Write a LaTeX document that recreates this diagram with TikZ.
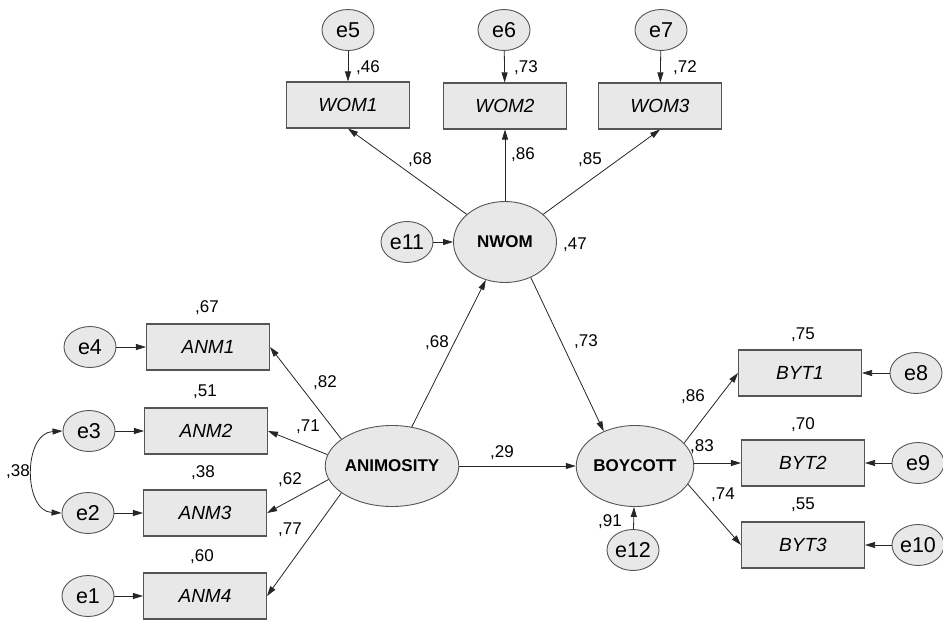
\documentclass[tikz,border=0pt]{standalone}
\usepackage{fontspec}
\setmainfont{Liberation Sans}
\usetikzlibrary{shapes.geometric,arrows.meta}
\definecolor{shapefill}{HTML}{E8E8E8}
\definecolor{edgegray}{HTML}{555555}
\definecolor{linecol}{HTML}{262626}
\tikzset{
  errnode/.style={ellipse,draw=edgegray,line width=0.9pt,fill=shapefill,minimum width=52pt,minimum height=41pt,inner sep=0pt,font=\fontsize{21.5}{21.5}\selectfont},
  latent/.style={ellipse,draw=edgegray,line width=0.9pt,fill=shapefill,minimum width=103pt,minimum height=81pt,inner sep=0pt,font=\fontsize{17}{17}\selectfont\bfseries},
  obs/.style={rectangle,draw=edgegray,line width=1.1pt,fill=shapefill,minimum width=123pt,minimum height=46pt,inner sep=0pt,font=\fontsize{19}{19}\selectfont\itshape},
  lbl/.style={inner sep=0pt,font=\fontsize{17}{17}\selectfont},
  arr/.style={draw=linecol,line width=0.8pt,-{Triangle[length=10pt,width=6pt]}},
  dblarr/.style={draw=linecol,line width=0.8pt,{Triangle[length=10pt,width=6pt]}-{Triangle[length=10pt,width=6pt]}}
}
\begin{document}
\begin{tikzpicture}[x=1pt,y=-1pt]
\useasboundingbox (0,0) rectangle (943,619);
% latent variables
\node[latent] (nwom) at (505,242) {NWOM};
\node[latent] (anim) at (392,466) {ANIMOSITY};
\node[latent] (boy) at (635,466) {BOYCOTT};
% observed variables
\node[obs] (wom1) at (348,105) {WOM1};
\node[obs] (wom2) at (505,106) {WOM2};
\node[obs] (wom3) at (660,106) {WOM3};
\node[obs] (anm1) at (208,347) {ANM1};
\node[obs] (anm2) at (206,431) {ANM2};
\node[obs] (anm3) at (205,513) {ANM3};
\node[obs] (anm4) at (205,596) {ANM4};
\node[obs] (byt1) at (800,373) {BYT1};
\node[obs] (byt2) at (803,463) {BYT2};
\node[obs] (byt3) at (803,545) {BYT3};
% error terms
\node[errnode] (e5) at (348,30) {e5};
\node[errnode] (e6) at (504,30) {e6};
\node[errnode] (e7) at (661,30) {e7};
\node[errnode] (e11) at (407,242) {e11};
\node[errnode] (e4) at (90,347) {e4};
\node[errnode] (e3) at (89,431) {e3};
\node[errnode] (e2) at (88,513) {e2};
\node[errnode] (e1) at (88,596) {e1};
\node[errnode] (e8) at (916,373) {e8};
\node[errnode] (e9) at (918,463) {e9};
\node[errnode] (e10) at (918,545) {e10};
\node[errnode] (e12) at (633,550) {e12};
% error arrows
\draw[arr] (e5) -- (wom1);
\draw[arr] (e6) -- (wom2);
\draw[arr] (e7) -- (wom3);
\draw[arr] (e11) -- (nwom);
\draw[arr] (e4) -- (anm1);
\draw[arr] (e3) -- (anm2);
\draw[arr] (e2) -- (anm3);
\draw[arr] (e1) -- (anm4);
\draw[arr] (e8) -- (byt1);
\draw[arr] (e9) -- (byt2);
\draw[arr] (e10) -- (byt3);
\draw[arr] (e12) -- (boy);
% covariance
\draw[dblarr] (e3.west) .. controls (23,433) and (23,511) .. (e2.west);
% loadings
\draw[arr] (nwom) -- (wom1.south);
\draw[arr] (nwom) -- (wom2.south);
\draw[arr] (nwom) -- (wom3.south);
\draw[arr] (anim.152) -- (anm1.east);
\draw[arr] (anim.170) -- (anm2.east);
\draw[arr] (anim.192) -- (anm3.east);
\draw[arr] (anim.208) -- (anm4.east);
\draw[arr] (boy.25) -- (byt1.west);
\draw[arr] (boy.east |- byt2.west) -- (byt2.west);
\draw[arr] (boy.-19) -- (byt3.west);
% structural paths
\draw[arr] (anim) -- (nwom);
\draw[arr] (nwom.-54) -- (boy.132);
\draw[arr] (anim.east) -- (boy.west);
% labels
\node[lbl] (l46) at (368,68) {,46};
\node[lbl] (l73a) at (526,68) {,73};
\node[lbl] (l72) at (685,68) {,72};
\node[lbl] (l68a) at (420,160) {,68};
\node[lbl] (l86a) at (523,155) {,86};
\node[lbl] (l85) at (590,160) {,85};
\node[lbl] (l47) at (575,245) {,47};
\node[lbl] (l67) at (207,308) {,67};
\node[lbl] (l51) at (205,392) {,51};
\node[lbl] (l38a) at (203,473) {,38};
\node[lbl] (l60) at (202,557) {,60};
\node[lbl] (l38b) at (18,472) {,38};
\node[lbl] (l82) at (325,383) {,82};
\node[lbl] (l71) at (308,427) {,71};
\node[lbl] (l62) at (290,480) {,62};
\node[lbl] (l77) at (290,530) {,77};
\node[lbl] (l68b) at (437,343) {,68};
\node[lbl] (l73b) at (586,342) {,73};
\node[lbl] (l29) at (502,453) {,29};
\node[lbl] (l75) at (803,335) {,75};
\node[lbl] (l70) at (803,425) {,70};
\node[lbl] (l55) at (803,505) {,55};
\node[lbl] (l86b) at (693,397) {,86};
\node[lbl] (l83) at (702,447) {,83};
\node[lbl] (l74) at (723,495) {,74};
\node[lbl] (l91) at (610,522) {,91};
\end{tikzpicture}
\end{document}
